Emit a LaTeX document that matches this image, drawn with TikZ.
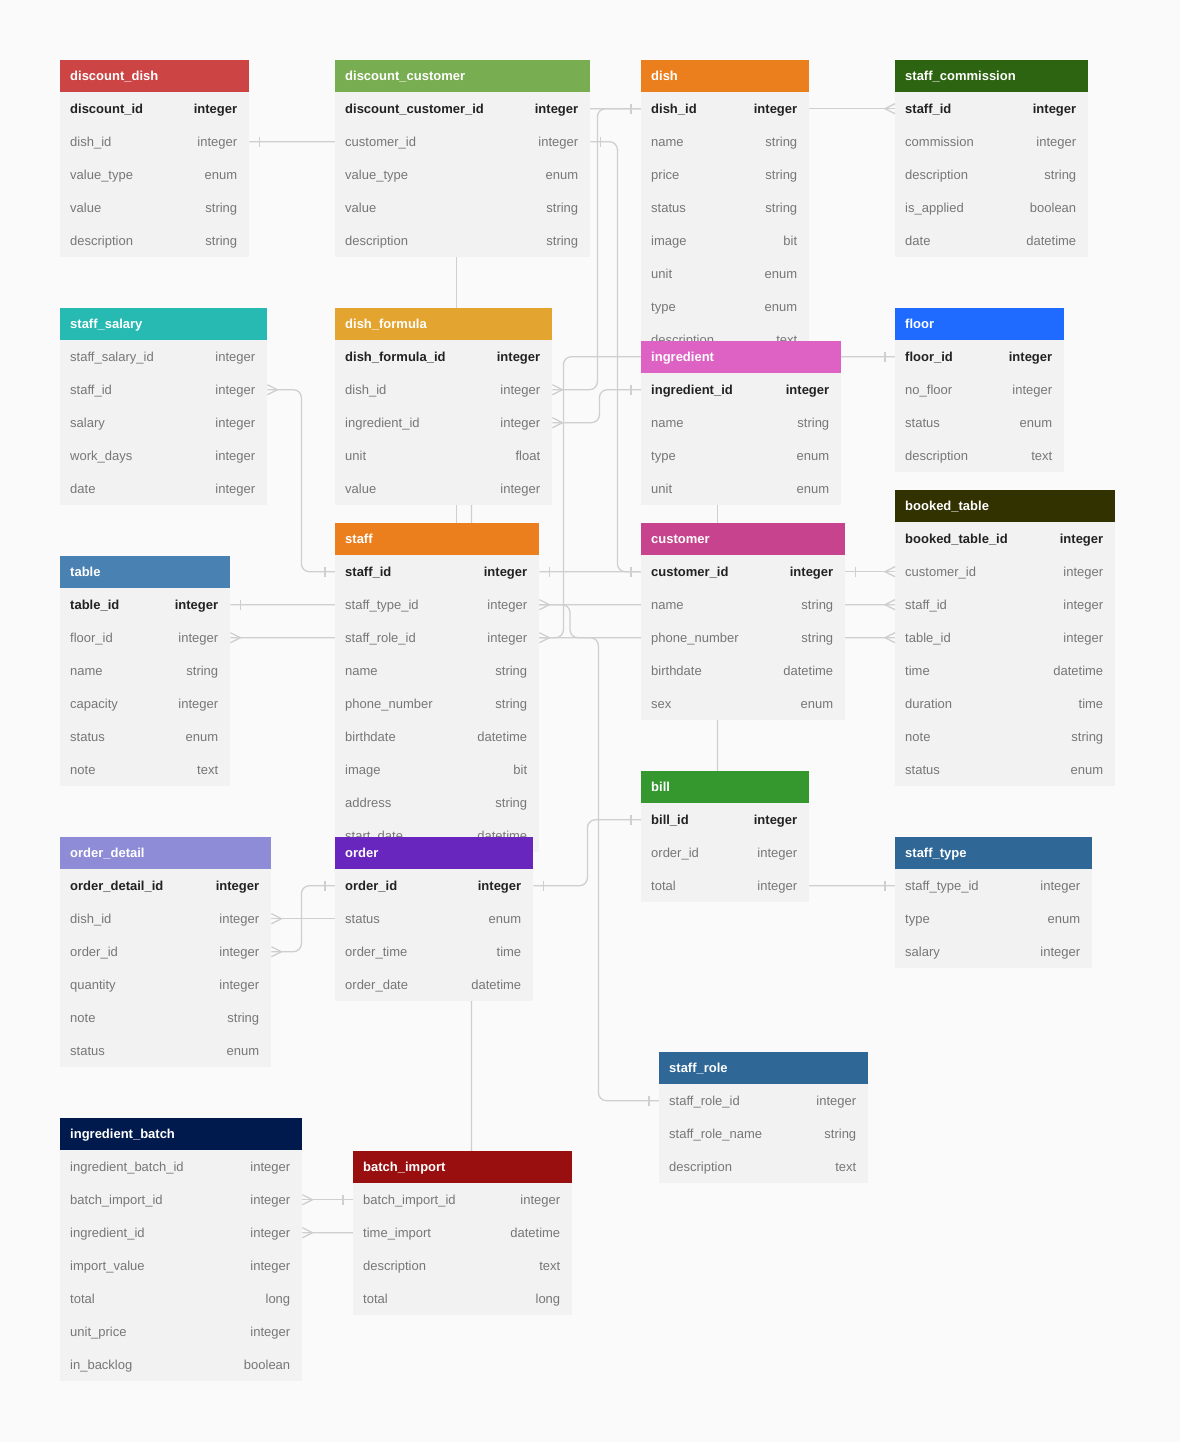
\documentclass[tikz,border=0pt]{standalone}
\usepackage{fontspec}
\setmainfont{Liberation Sans}
\usetikzlibrary{positioning}

\definecolor{bgpage}{HTML}{FAFAFA}
\definecolor{rowbg}{HTML}{F2F2F2}
\definecolor{keytext}{HTML}{222222}
\definecolor{fieldtext}{HTML}{777777}
\definecolor{relgray}{HTML}{CFCFCF}
\definecolor{cDiscDish}{HTML}{CC4444}
\definecolor{cDiscCust}{HTML}{79AD51}
\definecolor{cOrange}{HTML}{EB7F1D}
\definecolor{cCommission}{HTML}{2D6411}
\definecolor{cSalary}{HTML}{26BAB2}
\definecolor{cFormula}{HTML}{E4A530}
\definecolor{cIngredient}{HTML}{DD62C3}
\definecolor{cFloor}{HTML}{1F6AFF}
\definecolor{cBooked}{HTML}{323200}
\definecolor{cCustomer}{HTML}{C8438E}
\definecolor{cTable}{HTML}{4A81B3}
\definecolor{cBill}{HTML}{35982F}
\definecolor{cOrderDetail}{HTML}{8E8CD7}
\definecolor{cOrder}{HTML}{6826BE}
\definecolor{cSteel}{HTML}{2F6796}
\definecolor{cBatch}{HTML}{001A4D}
\definecolor{cImport}{HTML}{990F0F}

\pgfdeclarelayer{paper}
\pgfdeclarelayer{links}
\pgfsetlayers{paper,links,main}

\tikzset{
  hdr/.style={anchor=north west, minimum height=32pt, inner sep=0pt},
  rowbox/.style={anchor=north west, fill=rowbg, minimum height=33pt, inner sep=0pt},
  txt/.style={inner sep=0pt, text height=10pt, text depth=1pt, font=\fontsize{13pt}{15pt}\selectfont},
  hdrtext/.style={txt, anchor=west, text=white, font=\fontsize{13pt}{15pt}\selectfont\bfseries},
  fieldk/.style={txt, text=keytext, font=\fontsize{13pt}{15pt}\selectfont\bfseries},
  fieldn/.style={txt, text=fieldtext},
  rel/.style={draw=relgray, line width=1.3pt, rounded corners=8pt},
  tickone/.pic={\draw[relgray, line width=1.3pt] (-10,-5) -- (-10,5);},
  crowmany/.pic={\draw[relgray, line width=1.3pt] (0,-5) -- (-10,0) -- (0,5);},
}

% name, x, y, width, colour, title, rows
\newcommand{\ertable}[7]{
  \node[hdr, fill=#5, minimum width=#4pt] (#1) at (#2,#3) {};
  \node[hdrtext] at ([xshift=10pt]#1.west) {#6};
  \foreach \fsty/\fname/\ftype [count=\i] in {#7} {
    \node[rowbox, minimum width=#4pt] (#1-\i) at (#2,#3+32+33*\i-33) {};
    \node[\fsty, anchor=west] at ([xshift=10pt]#1-\i.west) {\fname};
    \node[\fsty, anchor=east] at ([xshift=-12pt]#1-\i.east) {\ftype};
  }
}

\begin{document}
\begin{tikzpicture}[x=1pt,y=-1pt]
\useasboundingbox (0,0) rectangle (1180,1442);
\begin{pgfonlayer}{paper}
  \fill[bgpage] (0,0) rectangle (1180,1442);
\end{pgfonlayer}

% tables
\ertable{discountdish}{60}{60}{189}{cDiscDish}{discount\_dish}{fieldk/discount\_id/integer, fieldn/dish\_id/integer, fieldn/value\_type/enum, fieldn/value/string, fieldn/description/string}
\ertable{discountcustomer}{335}{60}{255}{cDiscCust}{discount\_customer}{fieldk/discount\_customer\_id/integer, fieldn/customer\_id/integer, fieldn/value\_type/enum, fieldn/value/string, fieldn/description/string}
\ertable{dish}{641}{60}{168}{cOrange}{dish}{fieldk/dish\_id/integer, fieldn/name/string, fieldn/price/string, fieldn/status/string, fieldn/image/bit, fieldn/unit/enum, fieldn/type/enum, fieldn/description/text}
\ertable{staffcommission}{895}{60}{193}{cCommission}{staff\_commission}{fieldk/staff\_id/integer, fieldn/commission/integer, fieldn/description/string, fieldn/is\_applied/boolean, fieldn/date/datetime}
\ertable{staffsalary}{60}{308}{207}{cSalary}{staff\_salary}{fieldn/staff\_salary\_id/integer, fieldn/staff\_id/integer, fieldn/salary/integer, fieldn/work\_days/integer, fieldn/date/integer}
\ertable{dishformula}{335}{308}{217}{cFormula}{dish\_formula}{fieldk/dish\_formula\_id/integer, fieldn/dish\_id/integer, fieldn/ingredient\_id/integer, fieldn/unit/float, fieldn/value/integer}
\ertable{ingredient}{641}{341}{200}{cIngredient}{ingredient}{fieldk/ingredient\_id/integer, fieldn/name/string, fieldn/type/enum, fieldn/unit/enum}
\ertable{floor}{895}{308}{169}{cFloor}{floor}{fieldk/floor\_id/integer, fieldn/no\_floor/integer, fieldn/status/enum, fieldn/description/text}
\ertable{bookedtable}{895}{490}{220}{cBooked}{booked\_table}{fieldk/booked\_table\_id/integer, fieldn/customer\_id/integer, fieldn/staff\_id/integer, fieldn/table\_id/integer, fieldn/time/datetime, fieldn/duration/time, fieldn/note/string, fieldn/status/enum}
\ertable{staff}{335}{523}{204}{cOrange}{staff}{fieldk/staff\_id/integer, fieldn/staff\_type\_id/integer, fieldn/staff\_role\_id/integer, fieldn/name/string, fieldn/phone\_number/string, fieldn/birthdate/datetime, fieldn/image/bit, fieldn/address/string, fieldn/start\_date/datetime}
\ertable{customer}{641}{523}{204}{cCustomer}{customer}{fieldk/customer\_id/integer, fieldn/name/string, fieldn/phone\_number/string, fieldn/birthdate/datetime, fieldn/sex/enum}
\ertable{table}{60}{556}{170}{cTable}{table}{fieldk/table\_id/integer, fieldn/floor\_id/integer, fieldn/name/string, fieldn/capacity/integer, fieldn/status/enum, fieldn/note/text}
\ertable{bill}{641}{771}{168}{cBill}{bill}{fieldk/bill\_id/integer, fieldn/order\_id/integer, fieldn/total/integer}
\ertable{orderdetail}{60}{837}{211}{cOrderDetail}{order\_detail}{fieldk/order\_detail\_id/integer, fieldn/dish\_id/integer, fieldn/order\_id/integer, fieldn/quantity/integer, fieldn/note/string, fieldn/status/enum}
\ertable{order}{335}{837}{198}{cOrder}{order}{fieldk/order\_id/integer, fieldn/status/enum, fieldn/order\_time/time, fieldn/order\_date/datetime}
\ertable{stafftype}{895}{837}{197}{cSteel}{staff\_type}{fieldn/staff\_type\_id/integer, fieldn/type/enum, fieldn/salary/integer}
\ertable{staffrole}{659}{1052}{209}{cSteel}{staff\_role}{fieldn/staff\_role\_id/integer, fieldn/staff\_role\_name/string, fieldn/description/text}
\ertable{ingredientbatch}{60}{1118}{242}{cBatch}{ingredient\_batch}{fieldn/ingredient\_batch\_id/integer, fieldn/batch\_import\_id/integer, fieldn/ingredient\_id/integer, fieldn/import\_value/integer, fieldn/total/long, fieldn/unit\_price/integer, fieldn/in\_backlog/boolean}
\ertable{batchimport}{353}{1151}{219}{cImport}{batch\_import}{fieldn/batch\_import\_id/integer, fieldn/time\_import/datetime, fieldn/description/text, fieldn/total/long}

% relations, behind the tables
\begin{pgfonlayer}{links}
\draw[rel] (discountdish-2.east) -- ++(171,0) |- (dish-1.west);
\draw[rel] (dishformula-2.east) -- ++(45,0) |- (dish-1.west);
\draw[rel] (dishformula-3.east) -- ++(47,0) |- (ingredient-1.west);
\draw[rel] (discountcustomer-2.east) -- ++(27,0) |- (customer-1.west);
\draw[rel] (staffcommission-1.west) -- (dish-1.center);
\draw[rel] (table-2.east) -- ++(333,0) |- (floor-1.west);
\draw[rel] (staff-2.east) -- ++(178,0) |- (stafftype-1.west);
\draw[rel] (staff-3.east) -- ++(59,0) |- (staffrole-1.west);
\draw[rel] (bookedtable-2.west) -- (customer-1.east);
\draw[rel] (bookedtable-3.west) -- ++(-195,0) |- (staff-1.east);
\draw[rel] (bookedtable-4.west) -- ++(-325,0) |- (table-1.east);
\draw[rel] (staffsalary-2.east) -- ++(34,0) |- (staff-1.west);
\draw[rel] (orderdetail-3.east) -- ++(30,0) |- (order-1.west);
\draw[rel] (orderdetail-2.east) -- (order-2.center);
\draw[rel] (order-1.east) -- ++(54,0) |- (bill-1.west);
\draw[rel] (ingredientbatch-2.east) -- (batchimport-1.west);
\draw[rel] (ingredientbatch-3.east) -- ++(169,0) |- (dishformula-3.center);
\draw[rel] ([xshift=-6.5pt]discountcustomer-5.center) -- ([xshift=-6.5pt]discountcustomer-5.center |- staff-1.center);
\draw[rel] ([xshift=-24pt]ingredient-4.center) -- ([xshift=-24pt]ingredient-4.center |- customer-1.center);
\end{pgfonlayer}

% ends: one and many
\pic[xscale=-1] at (discountdish-2.east) {tickone};
\pic at (dish-1.west) {tickone};
\pic[xscale=-1] at (dishformula-2.east) {crowmany};
\pic[xscale=-1] at (dishformula-3.east) {crowmany};
\pic at (ingredient-1.west) {tickone};
\pic[xscale=-1] at (discountcustomer-2.east) {tickone};
\pic at (customer-1.west) {tickone};
\pic at (staffcommission-1.west) {crowmany};
\pic[xscale=-1] at (table-2.east) {crowmany};
\pic at (floor-1.west) {tickone};
\pic[xscale=-1] at (staff-2.east) {crowmany};
\pic at (stafftype-1.west) {tickone};
\pic[xscale=-1] at (staff-3.east) {crowmany};
\pic at (staffrole-1.west) {tickone};
\pic at (bookedtable-2.west) {crowmany};
\pic[xscale=-1] at (customer-1.east) {tickone};
\pic at (bookedtable-3.west) {crowmany};
\pic[xscale=-1] at (staff-1.east) {tickone};
\pic at (bookedtable-4.west) {crowmany};
\pic[xscale=-1] at (table-1.east) {tickone};
\pic[xscale=-1] at (staffsalary-2.east) {crowmany};
\pic at (staff-1.west) {tickone};
\pic[xscale=-1] at (orderdetail-3.east) {crowmany};
\pic at (order-1.west) {tickone};
\pic[xscale=-1] at (orderdetail-2.east) {crowmany};
\pic[xscale=-1] at (order-1.east) {tickone};
\pic at (bill-1.west) {tickone};
\pic[xscale=-1] at (ingredientbatch-2.east) {crowmany};
\pic at (batchimport-1.west) {tickone};
\pic[xscale=-1] at (ingredientbatch-3.east) {crowmany};
\end{tikzpicture}
\end{document}
